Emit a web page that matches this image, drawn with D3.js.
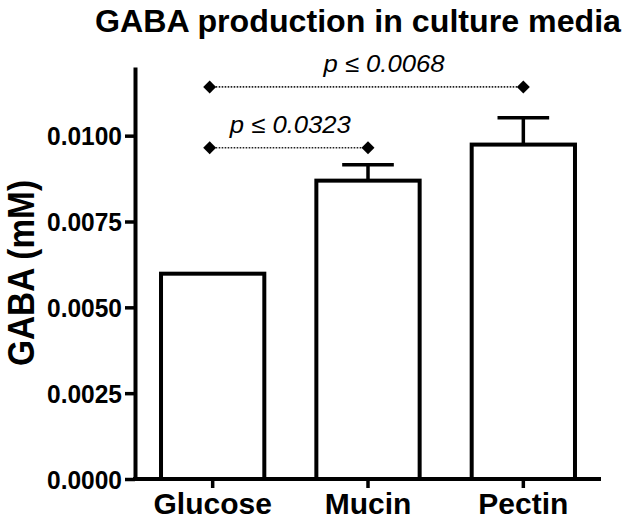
<!DOCTYPE html>
<html>
<head>
<meta charset="utf-8">
<script src="https://cdn.jsdelivr.net/npm/d3@7"></script>
<style>
  body { margin: 0; background: #fff; }
  svg { display: block; font-family: "Liberation Sans", Arial, Helvetica, sans-serif; }
</style>
</head>
<body>
<div id="chart"></div>
<script>
// data
const categories = ['Glucose', 'Mucin', 'Pectin'];
const means = [0.00598, 0.00869, 0.00974];
const errors = [0, 0.00046, 0.00078];
const yTicks = [0, 0.0025, 0.005, 0.0075, 0.01];
const comparisons = [
    { from: 'Glucose', to: 'Mucin', y: 0.00965, label: 'p ≤ 0.0323' },
    { from: 'Glucose', to: 'Pectin', y: 0.01142, label: 'p ≤ 0.0068' }
];

const width = 630, height = 520;

const svg = d3.select('#chart')
    .append('svg')
    .attr('width', width)
    .attr('height', height);

// scales
const x = d3.scaleBand()
    .domain(categories)
    .range([135, 601])
    .paddingInner(0.335)
    .paddingOuter(0.1675);

const y = d3.scaleLinear()
    .domain([0, 0.012])
    .range([479, 67]);

// title
svg.append('text')
    .attr('x', 358)
    .attr('y', 32)
    .attr('text-anchor', 'middle')
    .attr('textLength', 526)
    .attr('lengthAdjust', 'spacingAndGlyphs')
    .style('font-size', '32px')
    .style('font-weight', 'bold')
    .text('GABA production in culture media');

// y axis title
svg.append('text')
    .attr('transform', 'translate(34,273) rotate(-90)')
    .attr('text-anchor', 'middle')
    .attr('textLength', 186)
    .attr('lengthAdjust', 'spacingAndGlyphs')
    .style('font-size', '37px')
    .style('font-weight', 'bold')
    .text('GABA (mM)');

// bars
const data = categories.map((c, i) => ({ cat: c, mean: means[i], err: errors[i] }));

svg.append('g').selectAll('rect')
    .data(data)
    .enter()
    .append('rect')
    .attr('x', d => x(d.cat))
    .attr('y', d => y(d.mean))
    .attr('width', x.bandwidth())
    .attr('height', d => y(0) - y(d.mean))
    .style('fill', '#fff')
    .style('stroke', '#000')
    .style('stroke-width', 4);

// error bars (upper only)
const errG = svg.append('g').selectAll('g')
    .data(data.filter(d => d.err > 0))
    .enter()
    .append('g');

errG.append('line')
    .attr('x1', d => x(d.cat) + x.bandwidth() / 2)
    .attr('x2', d => x(d.cat) + x.bandwidth() / 2)
    .attr('y1', d => y(d.mean))
    .attr('y2', d => y(d.mean + d.err))
    .style('stroke', '#000')
    .style('stroke-width', 3.5);

errG.append('line')
    .attr('x1', d => x(d.cat) + x.bandwidth() / 4)
    .attr('x2', d => x(d.cat) + x.bandwidth() * 3 / 4)
    .attr('y1', d => y(d.mean + d.err))
    .attr('y2', d => y(d.mean + d.err))
    .style('stroke', '#000')
    .style('stroke-width', 3.5);

// axes
const yAxis = svg.append('g')
    .attr('transform', 'translate(135,0)')
    .call(d3.axisLeft(y).tickValues(yTicks).tickFormat(d3.format('.4f'))
        .tickSize(10).tickSizeOuter(0).tickPadding(3));

yAxis.select('.domain').style('stroke-width', 4);
yAxis.selectAll('.tick line').style('stroke-width', 3.5);
yAxis.selectAll('.tick text')
    .attr('dy', '0.36em')
    .attr('textLength', 75)
    .attr('lengthAdjust', 'spacingAndGlyphs')
    .style('font-family', '"Liberation Sans", Arial, sans-serif')
    .style('font-size', '25px')
    .style('font-weight', 'bold')
    .style('fill', '#000');

const xAxis = svg.append('g')
    .attr('transform', `translate(0,${y(0)})`)
    .call(d3.axisBottom(x).tickSize(9).tickSizeOuter(0).tickPadding(0));

xAxis.select('.domain')
    .attr('d', `M133,0H601`)
    .style('stroke-width', 4);
xAxis.selectAll('.tick line').style('stroke-width', 3.5);
xAxis.selectAll('.tick text')
    .attr('y', 35)
    .attr('dy', null)
    .style('font-family', '"Liberation Sans", Arial, sans-serif')
    .style('font-size', '30px')
    .style('font-weight', 'bold')
    .style('fill', '#000');

// significance brackets
const cx = c => x(c) + x.bandwidth() / 2;
const diamond = d3.symbol(d3.symbolSquare, 84);

const sig = svg.append('g').selectAll('g')
    .data(comparisons)
    .enter()
    .append('g');

sig.append('line')
    .attr('x1', d => cx(d.from) - 3)
    .attr('x2', d => cx(d.to))
    .attr('y1', d => y(d.y))
    .attr('y2', d => y(d.y))
    .style('stroke', '#222')
    .style('stroke-width', 1.6)
    .style('stroke-dasharray', '1.6,1.4');

sig.selectAll('path')
    .data(d => [[cx(d.from) - 3, y(d.y)], [cx(d.to), y(d.y)]])
    .enter()
    .append('path')
    .attr('d', diamond)
    .attr('transform', p => `translate(${p[0]},${p[1]}) rotate(45)`)
    .style('fill', '#000');

sig.append('text')
    .attr('x', (d, i) => (cx(d.from) + cx(d.to)) / 2 + (i === 1 ? 16 : 0))
    .attr('y', d => y(d.y) - 15)
    .attr('text-anchor', 'middle')
    .attr('textLength', 121)
    .attr('lengthAdjust', 'spacingAndGlyphs')
    .style('font-size', '24px')
    .style('font-style', 'italic')
    .text(d => d.label);
</script>
</body>
</html>
